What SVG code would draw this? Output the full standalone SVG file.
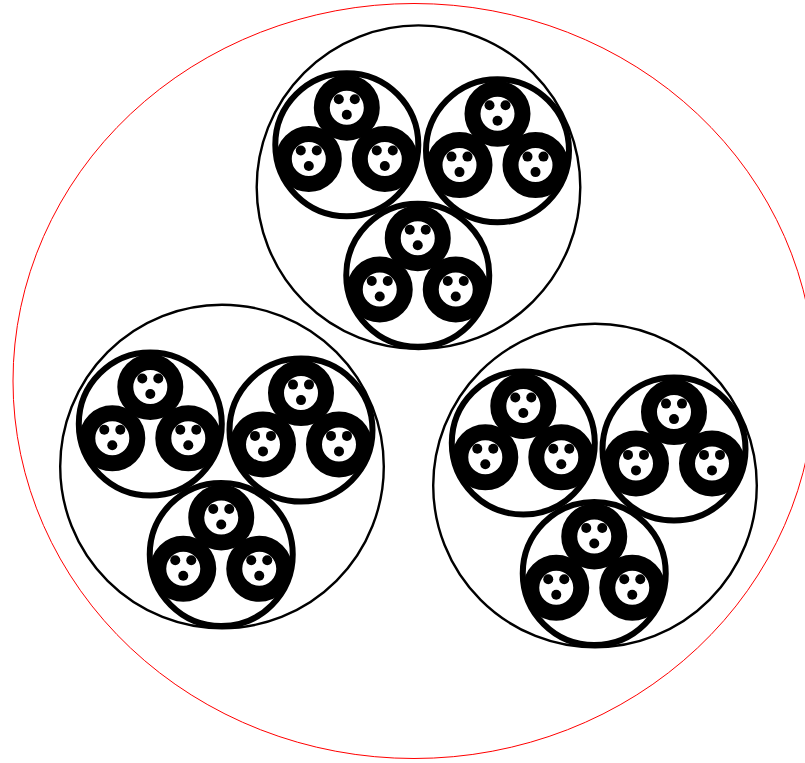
<svg xmlns="http://www.w3.org/2000/svg" xmlns:xlink="http://www.w3.org/1999/xlink" width="805" height="763" viewBox="0 0 805 763">
<style>
.outer{fill:none;stroke:#ff0000;stroke-width:1}
.cl{fill:none;stroke:#000;stroke-width:2.4}
.sub{fill:none;stroke:#000;stroke-width:6}
.ring{fill:#fff;stroke:#000;stroke-width:16}
.dot{fill:#000}
</style>
<defs>
<g id="ringUnit">
<circle class="ring" r="25"/>
<circle class="dot" cx="-8" cy="-8.5" r="5"/>
<circle class="dot" cx="8" cy="-8.5" r="5"/>
<circle class="dot" cx="0" cy="7" r="5"/>
</g>
<g id="subUnit">
<circle class="sub" r="71.5"/>
<use xlink:href="#ringUnit" href="#ringUnit" x="0" y="-37"/>
<use xlink:href="#ringUnit" href="#ringUnit" x="-38" y="14.3"/>
<use xlink:href="#ringUnit" href="#ringUnit" x="38" y="14.3"/>
</g>
<g id="clusterUnit">
<circle class="cl" r="161.8"/>
<use xlink:href="#subUnit" href="#subUnit" x="-71.7" y="-42.5"/>
<use xlink:href="#subUnit" href="#subUnit" x="79" y="-36.4"/>
<use xlink:href="#subUnit" href="#subUnit" x="-0.75" y="88"/>
</g>
</defs>
<g id="boundary"><ellipse class="outer" cx="414" cy="381" rx="401" ry="377.5"/></g>
<g id="cluster-top"><use xlink:href="#clusterUnit" href="#clusterUnit" x="418.5" y="187.2"/></g>
<g id="cluster-left"><use xlink:href="#clusterUnit" href="#clusterUnit" x="222" y="466.5"/></g>
<g id="cluster-right"><use xlink:href="#clusterUnit" href="#clusterUnit" x="595" y="485.5"/></g>
<g id="connectors"/>
</svg>
